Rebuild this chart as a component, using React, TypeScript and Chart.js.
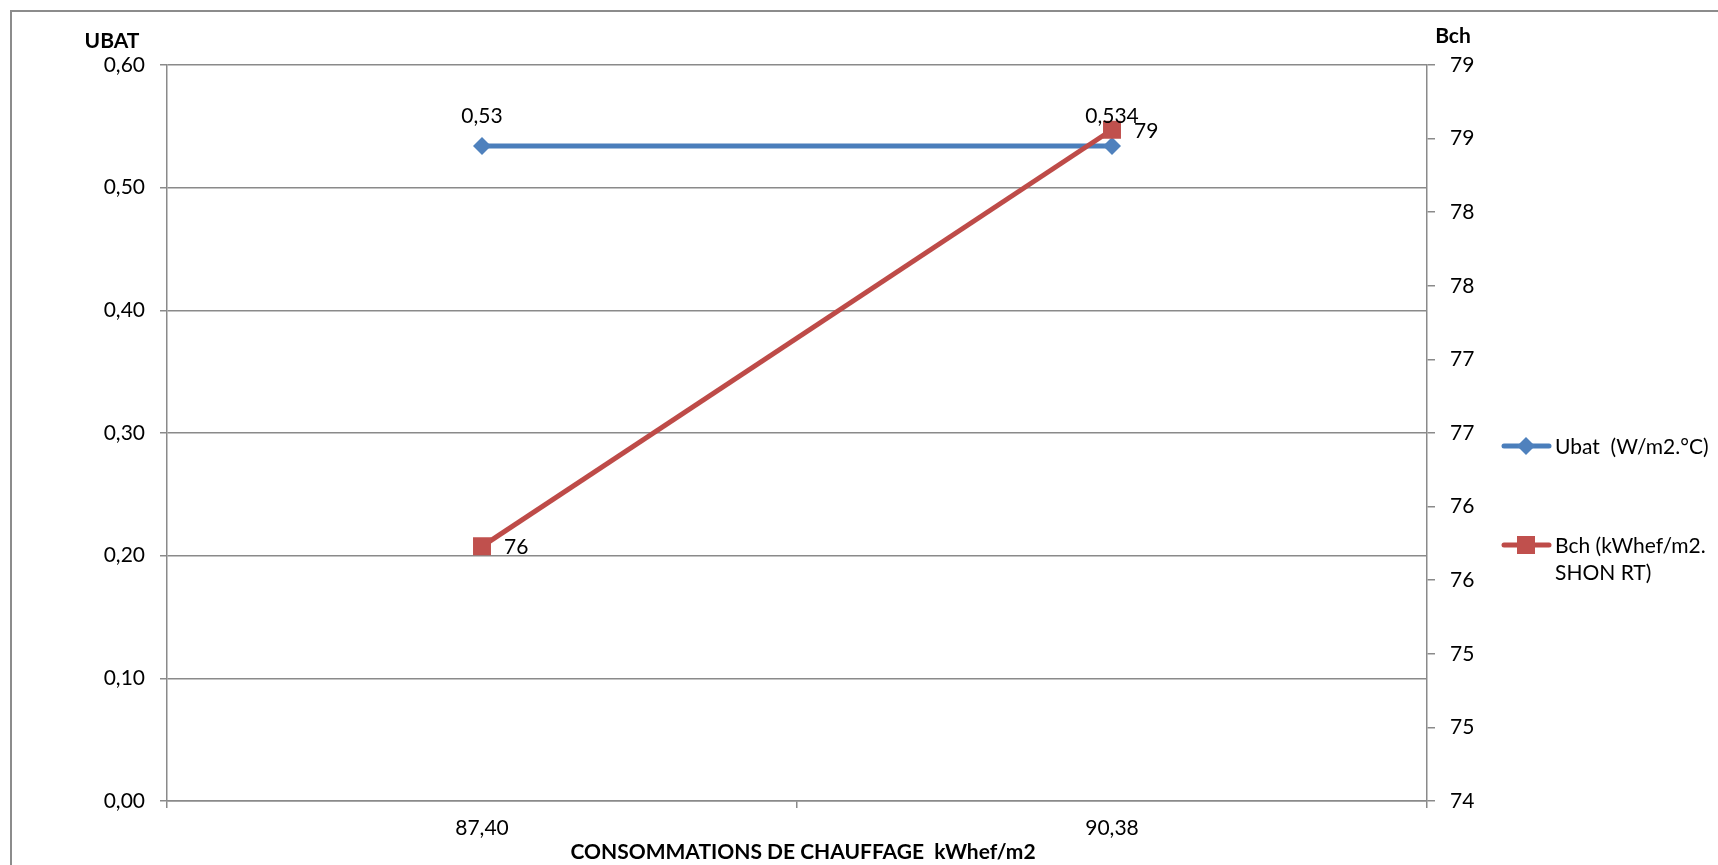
import { useEffect, useRef } from 'react';
import { Chart, registerables } from 'chart.js';

Chart.register(...registerables);

// Heating consumption categories (x axis)
const categories = ['87,40', '90,38'];

// Ubat (W/m2.°C) on the left axis
const ubatValues = [0.534, 0.534];
const ubatLabelDecimals = [2, 3];

// Bch (kWhef/m2 SHON RT) on the right axis
const bchValues = [75.73, 78.56];

// Axis ranges
const ubatAxis = { min: 0, max: 0.6, step: 0.1 };
const bchAxis = { min: 74, max: 79, step: 0.5 };

// Text
const ubatTitle = 'UBAT';
const bchTitle = 'Bch';
const xTitle = 'CONSOMMATIONS DE CHAUFFAGE  kWhef/m2';
const ubatLegend = ['Ubat  (W/m2.°C)'];
const bchLegend = ['Bch (kWhef/m2.', 'SHON RT)'];

const FONT = 'Lato, "Liberation Sans", sans-serif';
const FONT_SIZE = 21;
const BLUE_LINE = '#4A7EBB';
const BLUE_MARK = '#4F81BD';
const RED_LINE = '#BE4B48';
const RED_MARK = '#C0504D';
const GRID = '#8a8a8a';
const TEXT = '#000000';

const comma = (v: number, d: number) => v.toFixed(d).replace('.', ',');

const decorPlugin = {
  id: 'decor',
  afterDatasetsDraw(chart: any) {
    const ctx = chart.ctx as CanvasRenderingContext2D;
    ctx.save();

    // outer frame
    ctx.strokeStyle = '#8c8c8c';
    ctx.lineWidth = 2;
    ctx.strokeRect(11, 11, 3000, 3000);

    // data labels
    ctx.fillStyle = TEXT;
    ctx.font = `${FONT_SIZE}px ${FONT}`;
    const ubatMeta = chart.getDatasetMeta(1);
    ubatMeta.data.forEach((pt: any, i: number) => {
      ctx.textAlign = 'center';
      ctx.textBaseline = 'middle';
      ctx.fillText(comma(ubatValues[i], ubatLabelDecimals[i]), pt.x, pt.y - 30);
    });
    const bchMeta = chart.getDatasetMeta(0);
    bchMeta.data.forEach((pt: any, i: number) => {
      ctx.textAlign = 'left';
      ctx.textBaseline = 'middle';
      ctx.fillText(String(Math.round(bchValues[i])), pt.x + 22, pt.y + 1);
    });

    // axis titles
    const area = chart.chartArea;
    ctx.font = `bold ${FONT_SIZE}px ${FONT}`;
    ctx.textAlign = 'center';
    ctx.textBaseline = 'middle';
    ctx.fillText(ubatTitle, 112, 41);
    ctx.fillText(bchTitle, 1453, 36);
    ctx.fillText(xTitle, (area.left + area.right) / 2 + 6, 852);

    // legend
    const drawEntry = (y: number, line: string, mark: string, square: boolean, lines: string[]) => {
      ctx.strokeStyle = line;
      ctx.lineWidth = 5;
      ctx.lineCap = 'round';
      ctx.beginPath();
      ctx.moveTo(1504, y);
      ctx.lineTo(1549, y);
      ctx.stroke();
      ctx.fillStyle = mark;
      ctx.beginPath();
      if (square) {
        ctx.rect(1517, y - 9, 18, 18);
      } else {
        ctx.moveTo(1526, y - 9);
        ctx.lineTo(1535, y);
        ctx.lineTo(1526, y + 9);
        ctx.lineTo(1517, y);
        ctx.closePath();
      }
      ctx.fill();
      ctx.fillStyle = TEXT;
      ctx.font = `${FONT_SIZE}px ${FONT}`;
      ctx.textAlign = 'left';
      ctx.textBaseline = 'middle';
      lines.forEach((t, k) => ctx.fillText(t, 1555, y + 1 + k * 27));
    };
    drawEntry(446, BLUE_LINE, BLUE_MARK, false, ubatLegend);
    drawEntry(545, RED_LINE, RED_MARK, true, bchLegend);

    ctx.restore();
  },
};

export default function App() {
  const canvasRef = useRef<HTMLCanvasElement | null>(null);

  useEffect(() => {
    const canvas = canvasRef.current;
    if (!canvas) return;
    const chart = new Chart(canvas, {
      type: 'line',
      data: {
        labels: categories,
        datasets: [
          {
            label: bchLegend.join(' '),
            data: bchValues,
            yAxisID: 'y1',
            borderColor: RED_LINE,
            backgroundColor: RED_MARK,
            borderWidth: 5,
            pointStyle: 'rect',
            pointRadius: 12.7,
            pointBorderWidth: 0,
            pointBackgroundColor: RED_MARK,
            tension: 0,
            order: 0,
          },
          {
            label: ubatLegend[0],
            data: ubatValues,
            yAxisID: 'y',
            borderColor: BLUE_LINE,
            backgroundColor: BLUE_MARK,
            borderWidth: 5,
            pointStyle: 'rectRot',
            pointRadius: 9,
            pointBorderWidth: 0,
            pointBackgroundColor: BLUE_MARK,
            tension: 0,
            order: 1,
          },
        ],
      },
      options: {
        responsive: false,
        animation: false,
        devicePixelRatio: 1,
        layout: { padding: { top: 65, left: 0, right: 0, bottom: 0 } },
        plugins: {
          legend: { display: false },
          tooltip: { enabled: false },
          title: { display: false },
        },
        scales: {
          x: {
            type: 'category',
            offset: true,
            grid: {
              offset: true,
              drawOnChartArea: false,
              drawTicks: true,
              tickLength: 7,
              color: GRID,
              lineWidth: 1.5,
            },
            border: { color: GRID, width: 1.5 },
            ticks: {
              color: TEXT,
              font: { family: FONT, size: FONT_SIZE },
              padding: 8,
              maxRotation: 0,
            },
            afterFit: (s: any) => {
              s.height = 64;
            },
          },
          y: {
            position: 'left',
            min: ubatAxis.min,
            max: ubatAxis.max,
            grid: {
              color: GRID,
              lineWidth: 1.5,
              tickLength: 7,
              drawTicks: true,
            },
            border: { color: GRID, width: 1.5 },
            ticks: {
              stepSize: ubatAxis.step,
              color: TEXT,
              font: { family: FONT, size: FONT_SIZE },
              padding: 15,
              callback: (v: any) => comma(Number(v), 2),
            },
            afterFit: (s: any) => {
              s.width = 167;
            },
          },
          y1: {
            position: 'right',
            min: bchAxis.min,
            max: bchAxis.max,
            grid: {
              drawOnChartArea: false,
              color: GRID,
              lineWidth: 1.5,
              tickLength: 8,
              drawTicks: true,
            },
            border: { color: GRID, width: 1.5 },
            ticks: {
              stepSize: bchAxis.step,
              color: TEXT,
              font: { family: FONT, size: FONT_SIZE },
              padding: 15,
              callback: (v: any) => String(Math.round(Number(v))),
            },
            afterFit: (s: any) => {
              s.width = 291;
            },
          },
        },
      },
      plugins: [decorPlugin],
    } as any);
    return () => chart.destroy();
  }, []);

  return (
    <div style={{ position: 'absolute', left: 0, top: 0, width: 1718, height: 865, background: '#fff' }}>
      <canvas ref={canvasRef} width={1718} height={865} style={{ display: 'block' }} />
    </div>
  );
}
